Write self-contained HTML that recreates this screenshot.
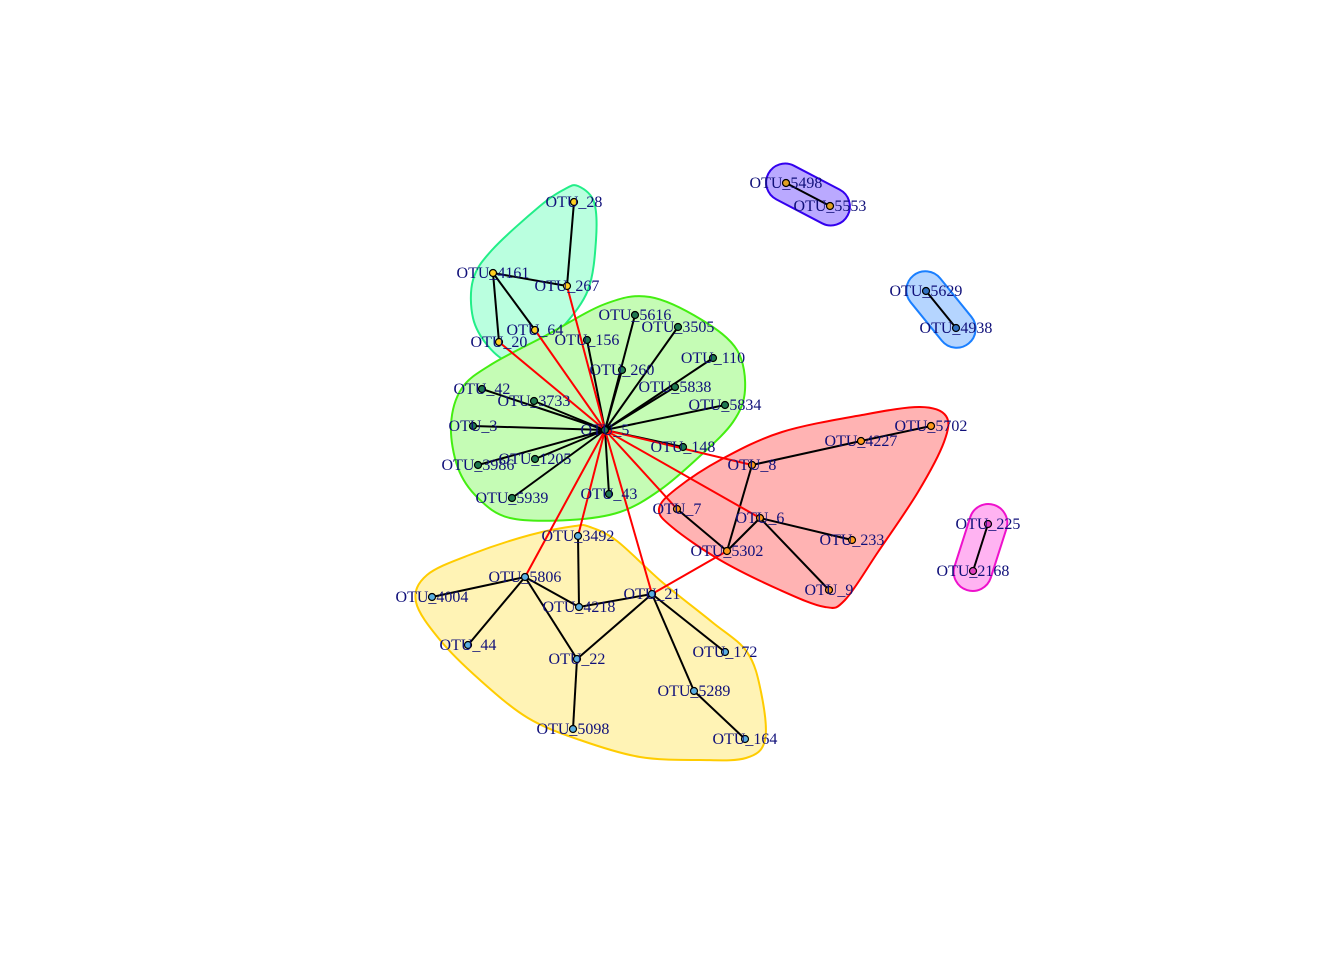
<!DOCTYPE html>
<html><head><meta charset="utf-8"><style>
html,body{margin:0;padding:0;background:#fff;}
svg{display:block;}
text{font-family:"Liberation Serif",serif;font-size:16px;fill:#10107a;}
</style></head><body>
<svg id="chart" width="1344" height="960" viewBox="0 0 1344 960">
<g id="hulls"></g>
<g id="edges"></g>
<g id="nodes"></g>
<g id="labels"></g>
</svg>
<script>
const nodeNames=["OTU_28","OTU_4161","OTU_267","OTU_64","OTU_20","OTU_5616","OTU_3505","OTU_156","OTU_110","OTU_260","OTU_5838","OTU_42","OTU_3733","OTU_5834","OTU_3","OTU_5","OTU_148","OTU_1205","OTU_3986","OTU_43","OTU_5939","OTU_5498","OTU_5553","OTU_5629","OTU_4938","OTU_5702","OTU_4227","OTU_8","OTU_7","OTU_6","OTU_233","OTU_5302","OTU_9","OTU_225","OTU_2168","OTU_3492","OTU_5806","OTU_4004","OTU_4218","OTU_21","OTU_44","OTU_22","OTU_172","OTU_5289","OTU_5098","OTU_164"];
const layoutX=[574,493,567,535,499,635,678,587,713,622,675,482,534,725,473,605,683,535,478,609,512,786,830,926,956,931,861,752,677,760,852,727,829,988,973,578,525,432,579,652,468,577,725,694,573,745];
const layoutY=[202,273,286,330,342,315,327,340,358,370,387,389,401,405,426,430,447,459,465,494,498,183,206,291,328,426,441,465,509,518,540,551,590,524,571,536,577,597,607,594,645,659,652,691,729,739];
const nodeGroup=["teal","teal","teal","teal","teal","green","green","green","green","green","green","green","green","green","green","green","green","green","green","green","green","purple","purple","blue","blue","red","red","red","red","red","red","red","red","magenta","magenta","yellow","yellow","yellow","yellow","yellow","yellow","yellow","yellow","yellow","yellow","yellow"];
const blackEdges=[["OTU_28","OTU_267"],["OTU_4161","OTU_267"],["OTU_4161","OTU_64"],["OTU_4161","OTU_20"],
["OTU_5","OTU_156"],["OTU_5","OTU_5616"],["OTU_5","OTU_3505"],["OTU_5","OTU_110"],["OTU_5","OTU_260"],["OTU_5","OTU_5838"],["OTU_5","OTU_5834"],["OTU_5","OTU_42"],["OTU_5","OTU_3733"],["OTU_5","OTU_3"],["OTU_5","OTU_3986"],["OTU_5","OTU_1205"],["OTU_5","OTU_5939"],["OTU_5","OTU_43"],["OTU_5","OTU_148"],
["OTU_8","OTU_4227"],["OTU_4227","OTU_5702"],["OTU_8","OTU_5302"],["OTU_7","OTU_5302"],["OTU_5302","OTU_6"],["OTU_6","OTU_233"],["OTU_6","OTU_9"],
["OTU_5806","OTU_4004"],["OTU_5806","OTU_44"],["OTU_5806","OTU_4218"],["OTU_5806","OTU_22"],["OTU_3492","OTU_4218"],["OTU_4218","OTU_21"],["OTU_21","OTU_22"],["OTU_22","OTU_5098"],["OTU_21","OTU_172"],["OTU_21","OTU_5289"],["OTU_5289","OTU_164"],
["OTU_5498","OTU_5553"],["OTU_5629","OTU_4938"],["OTU_225","OTU_2168"]];
const redEdges=[["OTU_5","OTU_267"],["OTU_5","OTU_64"],["OTU_5","OTU_20"],["OTU_5","OTU_8"],["OTU_5","OTU_7"],["OTU_5","OTU_6"],["OTU_5","OTU_5806"],["OTU_5","OTU_3492"],["OTU_5","OTU_21"],["OTU_21","OTU_5302"]];
const groupFill={teal:"#baffdf",green:"#c5fcb5",red:"#ffb3b3",yellow:"#fff3b5",purple:"#baa9ff",blue:"#b5d5ff",magenta:"#ffb3f2"};
const groupStroke={teal:"#22ee88",green:"#44ee11",red:"#ff0000",yellow:"#ffcc00",purple:"#3300ee",blue:"#1a7fff",magenta:"#ee11cc"};
const nodeFill={teal:"#ffd020",green:"#1f7a50",red:"#ff9a1a",yellow:"#5aaee0",purple:"#e0a020",blue:"#3070c0",magenta:"#e040c0"};
const hullPts={
teal:[[578,186],[594,202],[596,240],[588,290],[562,328],[535,354],[510,362],[488,346],[473,318],[473,280],[492,250],[540,206],[565,189]],
green:[[650,297],[702,320],[737,350],[745,390],[733,422],[700,456],[660,490],[620,512],[570,520],[510,518],[478,498],[458,468],[451,425],[462,388],[492,364],[545,336],[605,304]],
red:[[920,407],[946,416],[944,442],[918,492],[878,552],[845,600],[825,607],[780,590],[720,560],[672,527],[659,509],[676,489],[722,459],[782,432],[862,415]],
yellow:[[590,527],[617,541],[662,582],[712,622],[747,652],[761,692],[765,740],[746,758],[700,760],[640,757],[580,740],[528,718],[480,680],[440,640],[416,602],[427,575],[472,554],[530,535],[575,526]]
};
const pairHulls=[["purple","OTU_5498","OTU_5553"],["blue","OTU_5629","OTU_4938"],["magenta","OTU_225","OTU_2168"]];
const NS="http://www.w3.org/2000/svg";
function idx(n){return nodeNames.indexOf(n);}
function px(n){return layoutX[idx(n)];}
function py(n){return layoutY[idx(n)];}
function smooth(p){
 let d="";const n=p.length;
 for(let i=0;i<n;i++){
  const p0=p[(i-1+n)%n],p1=p[i],p2=p[(i+1)%n],p3=p[(i+2)%n];
  if(i===0)d+="M"+p1[0]+","+p1[1];
  const c1=[p1[0]+(p2[0]-p0[0])/6,p1[1]+(p2[1]-p0[1])/6];
  const c2=[p2[0]-(p3[0]-p1[0])/6,p2[1]-(p3[1]-p1[1])/6];
  d+=" C"+c1[0]+","+c1[1]+" "+c2[0]+","+c2[1]+" "+p2[0]+","+p2[1];
 }
 return d+"Z";
}
const hg=document.getElementById("hulls");
for(const g in hullPts){
 const p=document.createElementNS(NS,"path");
 p.setAttribute("d",smooth(hullPts[g]));
 p.setAttribute("fill",groupFill[g]);p.setAttribute("stroke",groupStroke[g]);p.setAttribute("stroke-width","2");
 
 
 hg.appendChild(p);
}
pairHulls.forEach(h=>{
 const x1=px(h[1]),y1=py(h[1]),x2=px(h[2]),y2=py(h[2]);
 const cx=(x1+x2)/2,cy=(y1+y2)/2,len=Math.hypot(x2-x1,y2-y1)+40,ang=Math.atan2(y2-y1,x2-x1)*180/Math.PI;
 const r=document.createElementNS(NS,"rect");
 r.setAttribute("x",cx-len/2);r.setAttribute("y",cy-19);r.setAttribute("width",len);r.setAttribute("height",38);
 r.setAttribute("rx",19);r.setAttribute("transform","rotate("+ang+" "+cx+" "+cy+")");
 r.setAttribute("fill",groupFill[h[0]]);r.setAttribute("stroke",groupStroke[h[0]]);r.setAttribute("stroke-width","2");
 
 
 hg.appendChild(r);
});
const eg=document.getElementById("edges");
function edge(e,col){
 const l=document.createElementNS(NS,"line");
 l.setAttribute("x1",px(e[0]));l.setAttribute("y1",py(e[0]));l.setAttribute("x2",px(e[1]));l.setAttribute("y2",py(e[1]));
 l.setAttribute("stroke",col);l.setAttribute("stroke-width","2");
 
 
 eg.appendChild(l);
}
blackEdges.forEach(e=>edge(e,"#000"));
redEdges.forEach(e=>edge(e,"#ff0000"));
const ng=document.getElementById("nodes"),lg=document.getElementById("labels");
nodeNames.forEach((n,i)=>{
 const c=document.createElementNS(NS,"circle");
 c.setAttribute("cx",layoutX[i]);c.setAttribute("cy",layoutY[i]);c.setAttribute("r","3.5");
 c.setAttribute("fill",nodeFill[nodeGroup[i]]);c.setAttribute("stroke","#000");c.setAttribute("stroke-width","1.2");
 
 
 ng.appendChild(c);
 const t=document.createElementNS(NS,"text");
 t.setAttribute("x",layoutX[i]);t.setAttribute("y",layoutY[i]+5);t.setAttribute("text-anchor","middle");
 t.textContent=n;
 
 
 lg.appendChild(t);
});
</script>
</body></html>
